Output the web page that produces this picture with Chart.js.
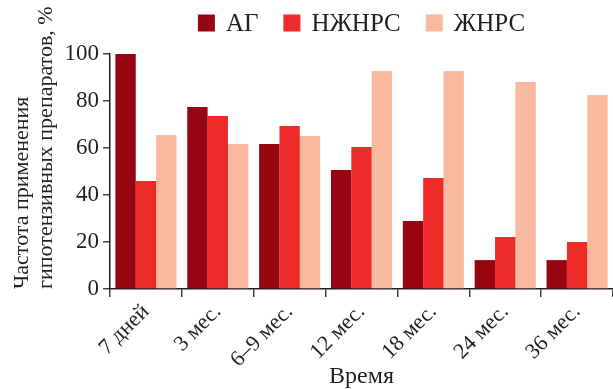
<!DOCTYPE html>
<html>
<head>
<meta charset="utf-8">
<script src="https://cdn.jsdelivr.net/npm/chart.js@4.4.1/dist/chart.umd.min.js"></script>
<style>
  html, body { margin: 0; padding: 0; background: #fff; }
  #wrap { width: 613px; height: 389px; }
</style>
</head>
<body>
<div id="wrap"><canvas id="grafico" width="613" height="389"></canvas></div>
<script>
// datos
const categorias = ['7 дней', '3 мес.', '6–9 мес.', '12 мес.', '18 мес.', '24 мес.', '36 мес.'];
const serieAG = [100, 77.4, 61.7, 50.6, 28.9, 12.3, 12.3];
const serieNZhNRS = [46, 73.6, 69.4, 60.4, 47.2, 22.1, 20];
const serieZhNRS = [65.5, 61.7, 65.1, 92.8, 92.8, 88.1, 82.6];
const ticksY = [0, 20, 40, 60, 80, 100];

const colorTexto = '#231f20';
const fuente = 'Liberation Serif, DejaVu Serif, serif';

// leyenda propia, centrada sobre el área del gráfico
const leyendaArriba = {
    id: 'leyendaArriba',
    afterDraw(chart) {
        const ctx = chart.ctx;
        const area = chart.chartArea;
        const caja = 17, hueco = 11, separacion = 25;
        ctx.save();
        ctx.font = '25px ' + fuente;
        const items = chart.data.datasets.map(ds => ({
            texto: ds.label, color: ds.backgroundColor, ancho: ctx.measureText(ds.label).width
        }));
        let total = 0;
        items.forEach((it, i) => { total += caja + hueco + it.ancho + (i < items.length - 1 ? separacion : 0); });
        let x = (area.left + area.right) / 2 - total / 2;
        const yCentro = 23;
        ctx.textBaseline = 'middle';
        items.forEach(it => {
            ctx.fillStyle = it.color;
            ctx.fillRect(x, yCentro - caja / 2, caja, caja);
            x += caja + hueco;
            ctx.fillStyle = colorTexto;
            ctx.fillText(it.texto, x, yCentro + 1);
            x += it.ancho + separacion;
        });
        ctx.restore();
    }
};

const ctx = document.getElementById('grafico').getContext('2d');
window.graficoBarras = new Chart(ctx, {
    type: 'bar',
    data: {
        labels: categorias,
        datasets: [
            { label: 'АГ', data: serieAG, backgroundColor: '#960510' },
            { label: 'НЖНРС', data: serieNZhNRS, backgroundColor: '#ee2b29' },
            { label: 'ЖНРС', data: serieZhNRS, backgroundColor: '#f9b9a1' }
        ]
    },
    options: {
        responsive: false,
        animation: false,
        devicePixelRatio: 1,
        categoryPercentage: 0.85,
        barPercentage: 1,
        layout: { padding: { top: 54, left: 0, right: 0, bottom: 0 } },
        plugins: {
            legend: { display: false },
            tooltip: { enabled: false }
        },
        scales: {
            x: {
                afterFit: s => { s.height = 100; },
                grid: { offset: true, drawOnChartArea: false, tickLength: 8, color: '#444', lineWidth: 1.5 },
                border: { color: colorTexto, width: 1.5 },
                ticks: {
                    color: colorTexto,
                    font: { family: fuente, size: 22 },
                    maxRotation: 45, minRotation: 45, padding: 2
                },
                title: {
                    display: true, text: 'Время', color: colorTexto,
                    font: { family: fuente, size: 24, lineHeight: 1 },
                    padding: { top: 0, bottom: 0 }
                }
            },
            y: {
                min: 0, max: 100,
                afterFit: s => { s.width = 110; },
                afterBuildTicks: s => { s.ticks = ticksY.map(v => ({ value: v })); },
                grid: { drawOnChartArea: false, tickLength: 7, color: '#444', lineWidth: 1.5 },
                border: { color: colorTexto, width: 1.5 },
                ticks: {
                    color: colorTexto,
                    font: { family: fuente, size: 23 },
                    padding: 4
                },
                title: {
                    display: true, align: 'start',
                    text: ['Частота применения', 'гипотензивных препаратов, %'],
                    color: colorTexto,
                    font: { family: fuente, size: 22, lineHeight: 1.1 },
                    padding: { top: 10, bottom: 0 }
                }
            }
        }
    },
    plugins: [leyendaArriba]
});
</script>
</body>
</html>
